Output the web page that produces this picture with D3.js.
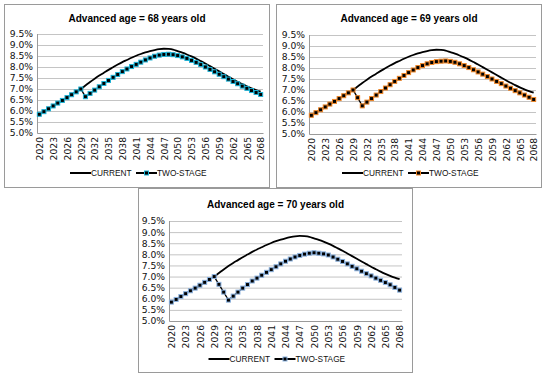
<!DOCTYPE html>
<html>
<head>
<meta charset="utf-8">
<script src="https://cdn.jsdelivr.net/npm/d3@7/dist/d3.min.js"></script>
<style>
  body { margin: 0; background: #fff; }
  svg { display: block; }
  .grid line { stroke: #c4c4c4; stroke-width: 1; }
  .tick text { font-family: "DejaVu Sans", sans-serif; font-size: 9.2px; fill: #111; }
  .title { font-family: "Liberation Sans", Arial, sans-serif; font-size: 10px; font-weight: bold; fill: #000; }
  .legend text { font-family: "Liberation Sans", Arial, sans-serif; font-size: 8.3px; fill: #111; }
</style>
</head>
<body>
<svg id="chart" width="550" height="377"></svg>
<script>
const years = [2020, 2021, 2022, 2023, 2024, 2025, 2026, 2027, 2028, 2029,
  2030, 2031, 2032, 2033, 2034, 2035, 2036, 2037, 2038, 2039,
  2040, 2041, 2042, 2043, 2044, 2045, 2046, 2047, 2048, 2049,
  2050, 2051, 2052, 2053, 2054, 2055, 2056, 2057, 2058, 2059,
  2060, 2061, 2062, 2063, 2064, 2065, 2066, 2067, 2068]
const tickYears = [2020, 2023, 2026, 2029, 2032, 2035, 2038, 2041, 2044, 2047, 2050, 2053, 2056, 2059, 2062, 2065, 2068]
const yTicks = [5.0, 5.5, 6.0, 6.5, 7.0, 7.5, 8.0, 8.5, 9.0, 9.5]

// CURRENT (same in all three charts)
const current = [5.85, 5.97, 6.10, 6.23, 6.36, 6.48, 6.61, 6.74, 6.87, 7.00,
  7.16, 7.32, 7.47, 7.61, 7.74, 7.87, 7.99, 8.11, 8.22, 8.32,
  8.42, 8.51, 8.59, 8.66, 8.72, 8.77, 8.81, 8.83, 8.82, 8.79,
  8.72, 8.65, 8.57, 8.48, 8.38, 8.27, 8.16, 8.04, 7.92, 7.80,
  7.68, 7.56, 7.44, 7.33, 7.22, 7.12, 7.03, 6.95, 6.88]

// TWO-STAGE
const twoStage68 = [5.85, 5.97, 6.10, 6.23, 6.36, 6.48, 6.61, 6.74, 6.87, 7.00,
  6.65, 6.80, 6.95, 7.10, 7.25, 7.39, 7.53, 7.66, 7.79, 7.91,
  8.02, 8.12, 8.22, 8.32, 8.41, 8.49, 8.54, 8.57, 8.58, 8.56,
  8.52, 8.46, 8.39, 8.30, 8.21, 8.11, 8.00, 7.89, 7.78, 7.67,
  7.56, 7.45, 7.34, 7.24, 7.13, 7.03, 6.93, 6.84, 6.75]
const twoStage69 = [5.85, 5.97, 6.10, 6.23, 6.36, 6.48, 6.61, 6.74, 6.87, 7.00,
  6.65, 6.28, 6.45, 6.61, 6.77, 6.93, 7.09, 7.24, 7.39, 7.53,
  7.66, 7.79, 7.91, 8.02, 8.11, 8.19, 8.25, 8.29, 8.31, 8.32,
  8.30, 8.26, 8.19, 8.11, 8.02, 7.92, 7.82, 7.72, 7.61, 7.50,
  7.39, 7.29, 7.18, 7.08, 6.97, 6.87, 6.77, 6.67, 6.57]
const twoStage70 = [5.85, 5.97, 6.10, 6.23, 6.36, 6.48, 6.61, 6.74, 6.87, 7.00,
  6.65, 6.30, 5.94, 6.12, 6.30, 6.48, 6.64, 6.80, 6.93, 7.06,
  7.19, 7.31, 7.44, 7.57, 7.69, 7.79, 7.88, 7.95, 8.01, 8.05,
  8.07, 8.05, 8.02, 7.97, 7.88, 7.78, 7.68, 7.57, 7.46, 7.35,
  7.24, 7.13, 7.03, 6.93, 6.83, 6.73, 6.63, 6.51, 6.39]

const titles = ['Advanced age = 68 years old', 'Advanced age = 69 years old', 'Advanced age = 70 years old']
const seriesNames = ['CURRENT', 'TWO-STAGE']

const panels = [
  { title: titles[0], data: twoStage68, color: '#1db3d6', box: [4, 4, 266, 184], plot: { top: 30, right: 7, bottom: 55, left: 33 }, titleY: 18, legendY: 169 },
  { title: titles[1], data: twoStage69, color: '#f0882a', box: [276, 4, 266, 184], plot: { top: 31, right: 6, bottom: 54, left: 33 }, titleY: 18, legendY: 169 },
  { title: titles[2], data: twoStage70, color: '#8cb3e0', box: [138, 188, 275, 185], plot: { top: 33, right: 11, bottom: 52, left: 31 }, titleY: 20, legendY: 171 }
]

const svg = d3.select('#chart')

function drawPanel (p) {
  let [bx, by, bw, bh] = p.box
  let g = svg.append('g').attr('transform', 'translate(' + bx + ',' + by + ')')

  g.append('rect')
    .attr('x', 0.5).attr('y', 0.5)
    .attr('width', bw - 1).attr('height', bh - 1)
    .attr('fill', '#fff')
    .attr('stroke', '#9a9a9a')

  g.append('text')
    .attr('class', 'title')
    .attr('x', bw / 2)
    .attr('y', p.titleY)
    .attr('text-anchor', 'middle')
    .text(p.title)

  let width = bw - p.plot.left - p.plot.right
  let height = bh - p.plot.top - p.plot.bottom
  let plot = g.append('g').attr('transform', 'translate(' + p.plot.left + ',' + p.plot.top + ')')

  let x = d3.scalePoint().domain(years).range([0, width]).padding(0.5)
  let y = d3.scaleLinear().domain([5.0, 9.5]).range([height, 0])

  // сетка + подписи оси y
  let gY = plot.append('g')
    .attr('class', 'grid')
    .call(d3.axisLeft(y).tickValues(yTicks).tickSize(-width).tickPadding(4)
      .tickFormat(function (d) { return d.toFixed(1) + '%' }))
  gY.select('.domain').remove()

  // левая ось
  plot.append('line')
    .attr('x1', 0.5).attr('x2', 0.5)
    .attr('y1', 0).attr('y2', height)
    .attr('stroke', '#9a9a9a')

  // ось x
  let gX = plot.append('g')
    .attr('transform', 'translate(0,' + height + ')')
    .call(d3.axisBottom(x).tickValues(tickYears).tickSize(0))
  gX.select('.domain').attr('stroke', '#9a9a9a')
  gX.selectAll('.tick text')
    .attr('transform', 'rotate(-90)')
    .attr('x', -4)
    .attr('y', 0)
    .attr('dy', '0.35em')
    .style('text-anchor', 'end')

  let lineCurrent = d3.line()
    .x(function (d, i) { return x(years[i]) })
    .y(function (d) { return y(d) })
    .curve(d3.curveMonotoneX)
  let lineTwo = d3.line()
    .x(function (d, i) { return x(years[i]) })
    .y(function (d) { return y(d) })

  plot.append('path')
    .datum(current)
    .attr('d', lineCurrent)
    .attr('fill', 'none')
    .attr('stroke', '#000')
    .attr('stroke-width', 1.8)

  plot.append('path')
    .datum(p.data)
    .attr('d', lineTwo)
    .attr('fill', 'none')
    .attr('stroke', '#000')
    .attr('stroke-width', 1.3)

  let ms = 4
  plot.selectAll('.dot')
    .data(p.data)
    .enter()
    .append('rect')
    .attr('class', 'dot')
    .attr('x', function (d, i) { return x(years[i]) - ms / 2 })
    .attr('y', function (d) { return y(d) - ms / 2 })
    .attr('width', ms)
    .attr('height', ms)
    .attr('fill', '#000')
    .attr('stroke', p.color)
    .attr('stroke-width', 1)

  // легенда
  let lg = g.append('g').attr('class', 'legend')
  let lx = bw / 2 - 67
  let ly = p.legendY
  lg.append('line')
    .attr('x1', lx).attr('x2', lx + 21)
    .attr('y1', ly).attr('y2', ly)
    .attr('stroke', '#000').attr('stroke-width', 2)
  lg.append('text')
    .attr('x', lx + 21).attr('y', ly).attr('dy', '0.35em')
    .text(seriesNames[0])
  let lx2 = lx + 66
  lg.append('line')
    .attr('x1', lx2).attr('x2', lx2 + 21)
    .attr('y1', ly).attr('y2', ly)
    .attr('stroke', '#000').attr('stroke-width', 2)
  lg.append('rect')
    .attr('x', lx2 + 10.5 - ms / 2).attr('y', ly - ms / 2)
    .attr('width', ms).attr('height', ms)
    .attr('fill', '#000')
    .attr('stroke', p.color)
  lg.append('text')
    .attr('x', lx2 + 21).attr('y', ly).attr('dy', '0.35em')
    .text(seriesNames[1])
}

panels.forEach(drawPanel)
</script>
</body>
</html>
